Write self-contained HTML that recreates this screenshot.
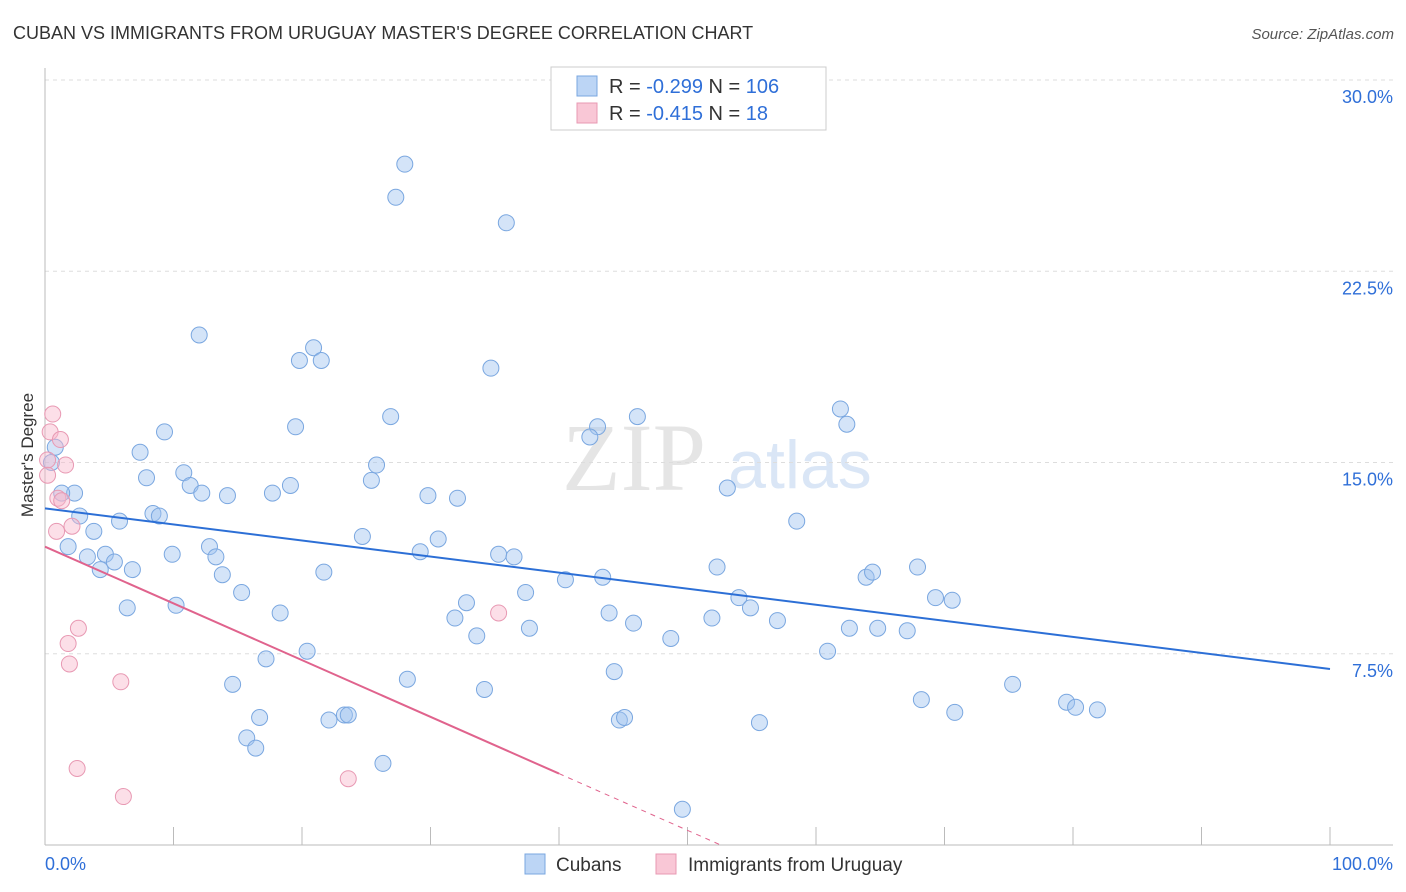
<!DOCTYPE html>
<html><head><meta charset="utf-8"><style>
body{margin:0;background:#fff;font-family:"Liberation Sans",sans-serif}
</style></head><body>
<svg id="chart" width="1406" height="892" xmlns="http://www.w3.org/2000/svg" style="display:block">
<text x="13" y="39" font-size="18" fill="#333" font-family="Liberation Sans">CUBAN VS IMMIGRANTS FROM URUGUAY MASTER'S DEGREE CORRELATION CHART</text>
<text x="1394" y="39" font-size="15" fill="#555" font-style="italic" text-anchor="end">Source: ZipAtlas.com</text>
<g opacity="0.5"><text x="634" y="490" font-size="96" fill="#ccc" text-anchor="middle" font-family="Liberation Serif">ZIP</text><text x="800" y="488" font-size="68" fill="#b6cfee" text-anchor="middle">atlas</text></g>
<g id="grid"></g><g id="axes"></g><g id="marks"></g>
<text transform="translate(33,455) rotate(-90)" font-size="17" fill="#333" text-anchor="middle">Master's Degree</text>
<g>
<rect x="551" y="67" width="275" height="63" fill="#fff" stroke="#ccc"/>
<rect x="577" y="76" width="20" height="20" fill="#bcd5f5" stroke="#7aa7e0"/>
<rect x="577" y="103" width="20" height="20" fill="#f9c7d6" stroke="#e899b3"/>
<text x="609" y="93" font-size="20" fill="#333">R = <tspan fill="#2f6fd8">-0.299</tspan>   N = <tspan fill="#2f6fd8">106</tspan></text>
<text x="609" y="120" font-size="20" fill="#333">R = <tspan fill="#2f6fd8">-0.415</tspan>   N = <tspan fill="#2f6fd8">  18</tspan></text>
</g>
<g>
<rect x="525" y="854" width="20" height="20" fill="#bcd5f5" stroke="#7aa7e0"/>
<text x="556" y="871" font-size="19" fill="#333">Cubans</text>
<rect x="656" y="854" width="20" height="20" fill="#f9c7d6" stroke="#e899b3"/>
<text x="688" y="871" font-size="19" fill="#333">Immigrants from Uruguay</text>
</g>
</svg>
<script>
const yTicks=[7.5,15,22.5,30];
const yTickLabels=["7.5%","15.0%","22.5%","30.0%"];
const xLabels=["0.0%","100.0%"];
const cubanX=[28.0,27.3,35.9,12.0,20.9,19.8,21.5,34.7,26.9,19.5,9.3,7.4,0.8,0.5,10.8,7.9,11.3,12.2,14.2,17.7,19.1,25.4,25.8,29.8,32.1,2.3,1.3,8.4,8.9,2.7,5.8,3.8,1.8,24.7,30.6,12.8,4.7,3.3,5.4,9.9,13.3,4.3,6.8,13.8,21.7,29.2,35.3,36.5,15.3,6.4,10.2,18.3,32.8,31.9,37.4,37.7,33.6,40.5,43.4,43.0,42.4,46.1,43.9,45.8,48.7,51.9,52.3,54.0,54.9,57.0,53.1,58.5,61.9,62.4,63.9,64.4,62.6,64.8,67.1,60.9,67.9,69.3,70.6,17.2,20.4,14.6,28.2,34.2,44.3,16.7,15.7,16.4,22.1,23.3,23.6,26.3,44.7,45.1,55.6,68.2,70.8,75.3,79.5,80.2,81.9,49.6];
const cubanY=[26.7,25.4,24.4,20.0,19.5,19.0,19.0,18.7,16.8,16.4,16.2,15.4,15.6,15.0,14.6,14.4,14.1,13.8,13.7,13.8,14.1,14.3,14.9,13.7,13.6,13.8,13.8,13.0,12.9,12.9,12.7,12.3,11.7,12.1,12.0,11.7,11.4,11.3,11.1,11.4,11.3,10.8,10.8,10.6,10.7,11.5,11.4,11.3,9.9,9.3,9.4,9.1,9.5,8.9,9.9,8.5,8.2,10.4,10.5,16.4,16.0,16.8,9.1,8.7,8.1,8.9,10.9,9.7,9.3,8.8,14.0,12.7,17.1,16.5,10.5,10.7,8.5,8.5,8.4,7.6,10.9,9.7,9.6,7.3,7.6,6.3,6.5,6.1,6.8,5.0,4.2,3.8,4.9,5.1,5.1,3.2,4.9,5.0,4.8,5.7,5.2,6.3,5.6,5.4,5.3,1.4];
const uruX=[0.6,0.4,1.2,1.6,0.2,1.0,1.3,0.9,2.1,2.6,1.8,1.9,5.9,2.5,6.1,23.6,35.3,0.2];
const uruY=[16.9,16.2,15.9,14.9,15.1,13.6,13.5,12.3,12.5,8.5,7.9,7.1,6.4,3.0,1.9,2.6,9.1,14.5];
const cubanTrend=[13.2,6.9];
const uruTrend=[11.7,2.8];
const uruSolidEnd=40;
const NS="http://www.w3.org/2000/svg";
const X0=45,X1=1330,YB=845,YT=80;
const sx=v=>X0+(X1-X0)*v/100;
const sy=v=>YB-(YB-YT)*v/30;
function el(t,a,p){const e=document.createElementNS(NS,t);for(const k in a)e.setAttribute(k,a[k]);p.appendChild(e);return e;}
const grid=document.getElementById('grid'),axes=document.getElementById('axes'),marks=document.getElementById('marks');
yTicks.forEach((t,i)=>{
 const l=el('line',{x1:X0,x2:1393,y1:sy(t),y2:sy(t),stroke:'#ddd','stroke-dasharray':'4,4'},grid);
 
 
 const tx=el('text',{x:1393,y:sy(t)+23,'font-size':18,fill:'#2f6fd8','text-anchor':'end'},axes);
 tx.textContent=yTickLabels[i];
 
 
});
el('line',{x1:X0,x2:X0,y1:68,y2:YB,stroke:'#bbb'},axes);
el('line',{x1:X0,x2:1393,y1:YB,y2:YB,stroke:'#bbb'},axes);
for(let i=0;i<=10;i++){const t=el('line',{x1:sx(i*10),x2:sx(i*10),y1:827,y2:YB,stroke:'#bbb'},axes);
 
 }
const xl0=el('text',{x:45,y:870,'font-size':18,fill:'#2f6fd8'},axes);xl0.textContent=xLabels[0];


const xl1=el('text',{x:1393,y:870,'font-size':18,fill:'#2f6fd8','text-anchor':'end'},axes);xl1.textContent=xLabels[1];


cubanX.forEach((x,i)=>{const c=el('circle',{cx:sx(x),cy:sy(cubanY[i]),r:8,fill:'rgba(160,195,240,0.45)',stroke:'#7aa7e0','stroke-width':1},marks);
 
 });
uruX.forEach((x,i)=>{const c=el('circle',{cx:sx(x),cy:sy(uruY[i]),r:8,fill:'rgba(248,185,205,0.45)',stroke:'#e899b3','stroke-width':1},marks);
 
 });
const bl=el('line',{x1:sx(0),y1:sy(cubanTrend[0]),x2:sx(100),y2:sy(cubanTrend[1]),stroke:'#2c6fd6','stroke-width':2},marks);


const slope=(uruTrend[1]-uruTrend[0])/uruSolidEnd;
const pl=el('line',{x1:sx(0),y1:sy(uruTrend[0]),x2:sx(uruSolidEnd),y2:sy(uruTrend[1]),stroke:'#e0638d','stroke-width':2},marks);


const xz=-uruTrend[0]/slope;
const pd=el('line',{x1:sx(uruSolidEnd),y1:sy(uruTrend[1]),x2:sx(xz),y2:sy(0),stroke:'#e0638d','stroke-width':1,'stroke-dasharray':'5,5'},marks);


</script>
</body></html>
